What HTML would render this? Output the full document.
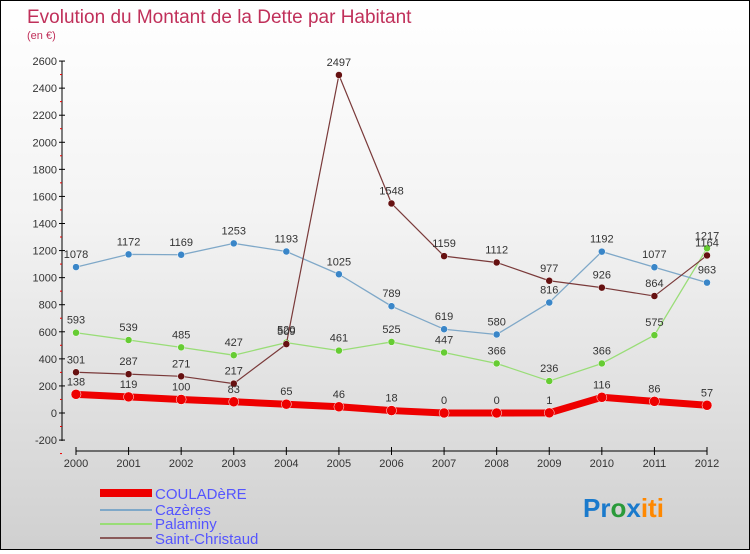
<!DOCTYPE html>
<html><head><meta charset="utf-8"><style>
body{margin:0;width:750px;height:550px;overflow:hidden;font-family:"Liberation Sans",sans-serif}
#c{position:absolute;left:0;top:0;width:748px;height:548px;border:1px solid #000;background:linear-gradient(#fff,#f3f3f3 40%,#d0d0d0)}
</style></head><body>
<div id="c">
<svg width="748" height="548">
<text x="26" y="22" font-size="19" fill="#c0305a">Evolution du Montant de la Dette par Habitant</text>
<text x="26" y="38" font-size="11" fill="#c0305a">(en €)</text>
<g id="axes"></g><g id="series"></g>
<g font-size="15" fill="#5555ff">
<rect x="99" y="488" width="52" height="8" fill="#e00"/>
<text x="154" y="498">COULADèRE</text>
<rect x="99" y="508" width="52" height="2" fill="#7fa8c8"/>
<text x="154" y="514">Cazères</text>
<rect x="99" y="522" width="52" height="2" fill="#99dd77"/>
<text x="154" y="528">Palaminy</text>
<rect x="99" y="536" width="52" height="2" fill="#8a5a5a"/>
<text x="154" y="543">Saint-Christaud</text>
</g>
<text x="582" y="516" font-size="26" font-weight="bold"><tspan fill="#1a7acc">Pr</tspan><tspan fill="#2a9a3a">o</tspan><tspan fill="#1a7acc">x</tspan><tspan fill="#ff8800">iti</tspan></text>
</svg></div>
<script>
const years=[2000,2001,2002,2003,2004,2005,2006,2007,2008,2009,2010,2011,2012];
const yTicks=[-200,0,200,400,600,800,1000,1200,1400,1600,1800,2000,2200,2400,2600];
const couladere=[138,119,100,83,65,46,18,0,0,1,116,86,57];
const cazeres=[1078,1172,1169,1253,1193,1025,789,619,580,816,1192,1077,963];
const palaminy=[593,539,485,427,520,461,525,447,366,236,366,575,1217];
const christaud=[301,287,271,217,509,2497,1548,1159,1112,977,926,864,1164];
const NS="http://www.w3.org/2000/svg";
const X=i=>75+i*(631/12);
const Y=v=>412-v*0.13536;
function mk(p,t,a){const e=document.createElementNS(NS,t);for(const k in a)e.setAttribute(k,a[k]);p.appendChild(e);return e;}
const ax=document.getElementById('axes');
let l=mk(ax,'line',{x1:61,y1:60,x2:61,y2:440,stroke:'#000'});


l=mk(ax,'line',{x1:75,y1:450,x2:706,y2:450,stroke:'#000'});


yTicks.forEach(v=>{const y=Y(v);
 mk(ax,'line',{x1:58,y1:y,x2:64,y2:y,stroke:'#000'});
 const t=mk(ax,'text',{x:56,y:y+4,'font-size':11,fill:'#333','text-anchor':'end'});t.textContent=v;
 
 
 mk(ax,'line',{x1:59,y1:y+13.5,x2:61,y2:y+13.5,stroke:'#e00'});
});
years.forEach((yr,i)=>{const x=X(i);
 mk(ax,'line',{x1:x,y1:446,x2:x,y2:454,stroke:'#000'});
 const t=mk(ax,'text',{x:x,y:466,'font-size':11,fill:'#333','text-anchor':'middle'});t.textContent=yr;
 
 
});
const sg=document.getElementById('series');
function draw(name,vals,col,w,dot,dotcol){
 const g=mk(sg,'g',{});
 
 
 const pl=mk(g,'polyline',{points:vals.map((v,i)=>X(i)+','+Y(v)).join(' '),fill:'none',stroke:col,'stroke-width':w,'stroke-linejoin':'round'});
 
 
 vals.forEach((v,i)=>{
  const c=mk(g,'circle',{cx:X(i),cy:Y(v),r:dot,fill:dotcol,stroke:'#fff','stroke-width':0.5});
  
  
  const t=mk(g,'text',{x:X(i),y:Y(v)-9,'font-size':11,fill:'#333','text-anchor':'middle'});t.textContent=v;
  
  
 });
}
draw('palaminy',palaminy,'#99dd77',1.3,3.5,'#66cc33');
draw('cazeres',cazeres,'#7fa8c8',1.3,3.5,'#3a86c8');
draw('saint-christaud',christaud,'#7a3a3a',1.2,3.5,'#661111');
draw('couladere',couladere,'#ee0000',7,5,'#ee0000');
</script>
</body></html>
